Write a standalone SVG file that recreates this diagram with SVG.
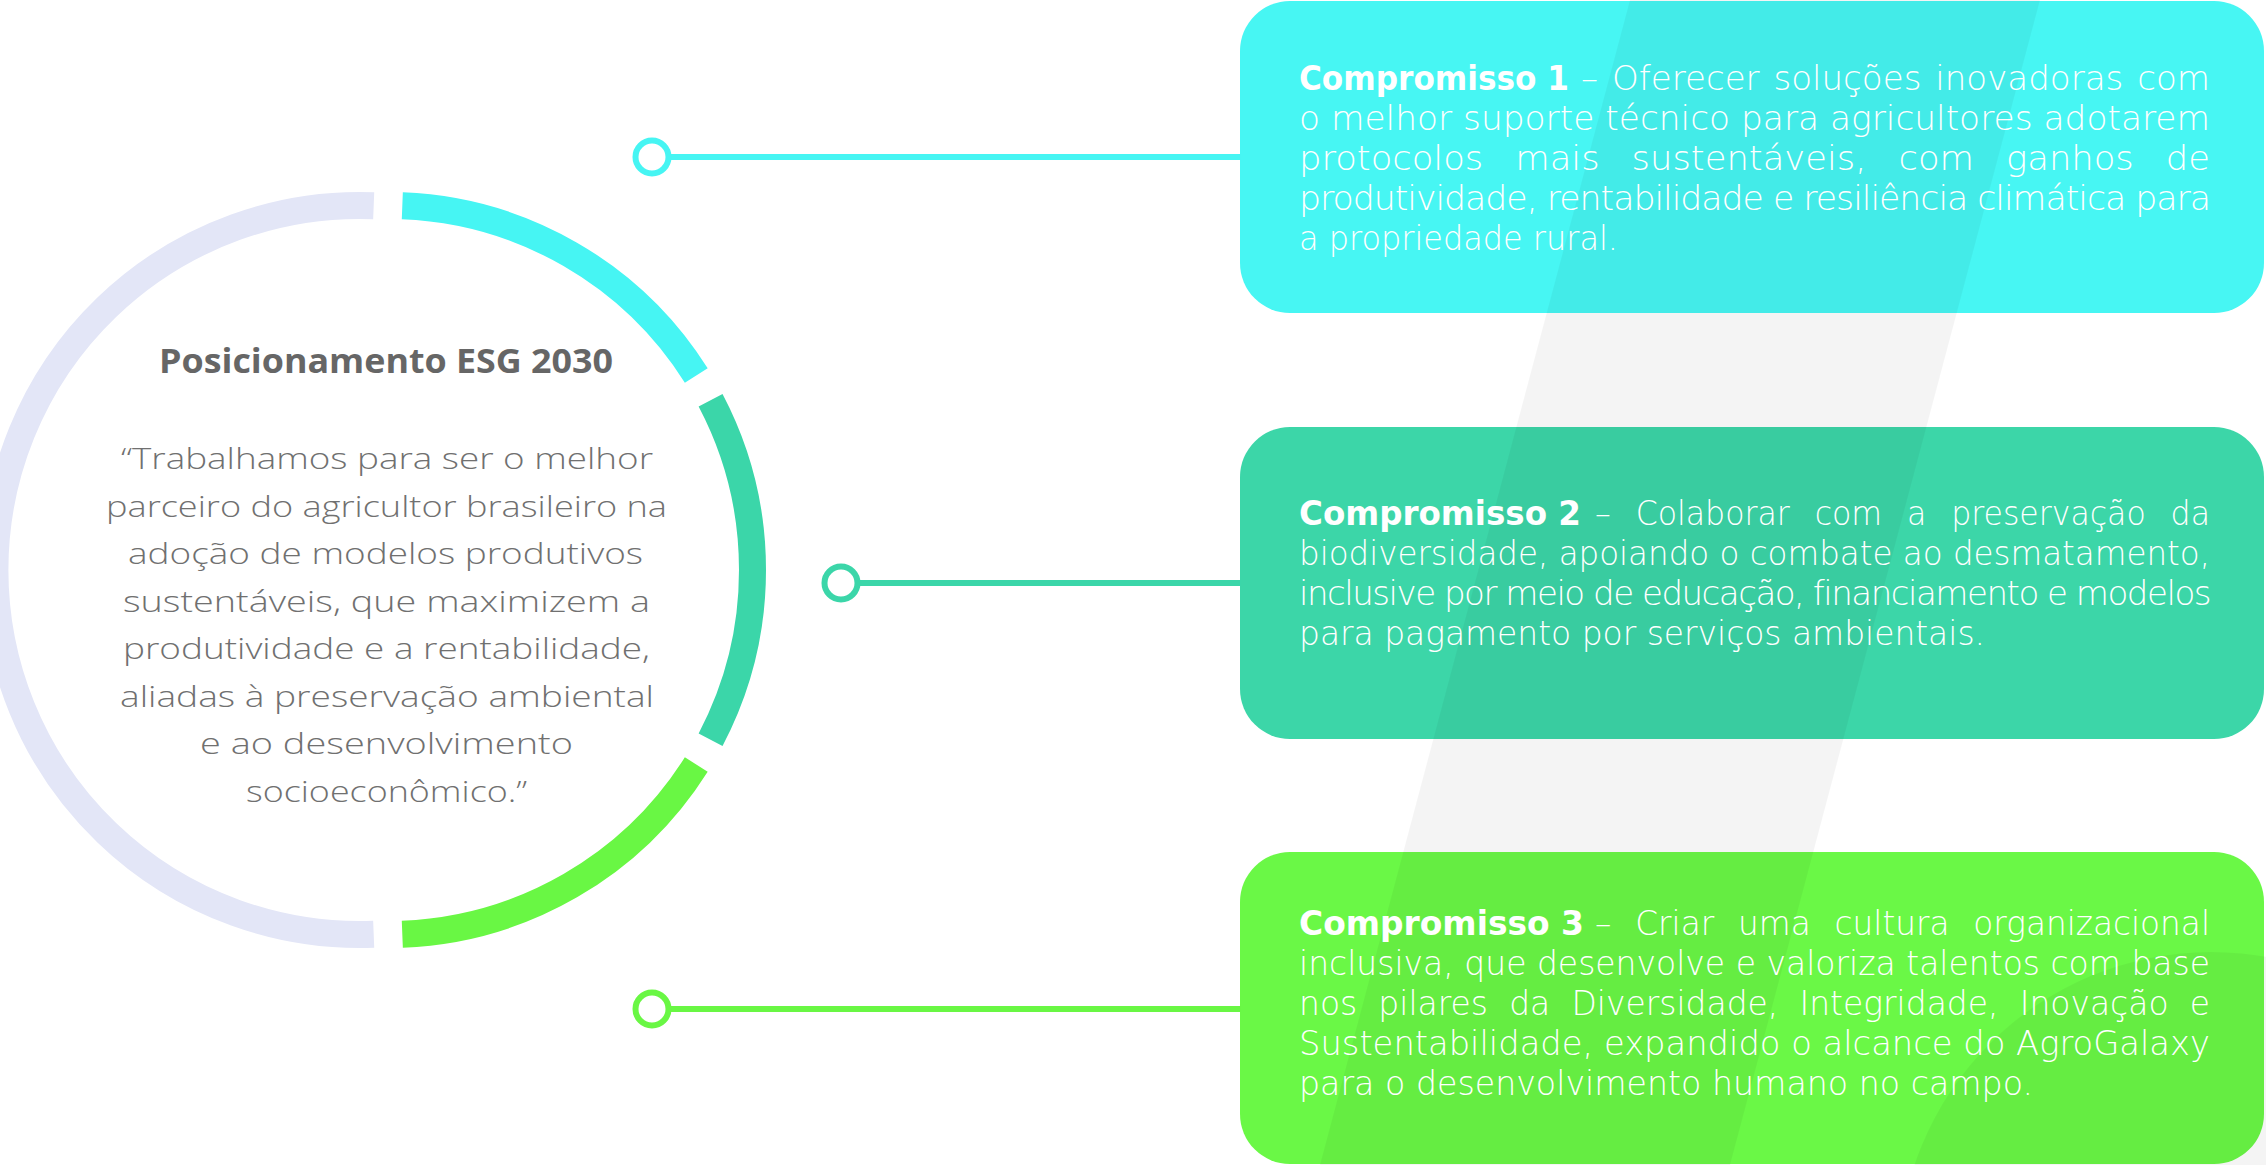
<svg xmlns="http://www.w3.org/2000/svg" width="2266" height="1165" viewBox="0 0 2266 1165">
  <style>
    .bt { font-family: "DejaVu Sans", "Liberation Sans", sans-serif; font-weight: 200; font-size: 34px; fill: #ffffff; }
    .bt .b { font-weight: 700; }
    .q { font-family: "Open Sans", "Liberation Sans", sans-serif; font-weight: 300; font-size: 30px; fill: #707070; }
    .ttl { font-family: "Open Sans", "Liberation Sans", sans-serif; font-weight: 700; font-size: 34px; fill: #666666; }
    .ring { fill: none; stroke-width: 27; }
    .dot { fill: #ffffff; stroke-width: 6; }
    .link { stroke-width: 6; }
    .deco { fill: #000000; fill-opacity: 0.045; }
  </style>
  <rect x="0" y="0" width="2266" height="1165" fill="#ffffff"/>

  <!-- boxes -->
  <g id="box-1-shape"><rect x="1240" y="1" width="1024" height="312" rx="50" ry="50" fill="#47F6F3"/></g>
  <g id="box-2-shape"><rect x="1240" y="427" width="1024" height="312" rx="50" ry="50" fill="#3CD6A8"/></g>
  <g id="box-3-shape"><rect x="1240" y="852" width="1024" height="312" rx="50" ry="50" fill="#6AF846"/></g>

  <!-- background decoration -->
  <g id="decoration">
    <polygon class="deco" points="1630,0 2040,0 1730,1165 1320,1165"/>
    <circle class="deco" cx="2211" cy="1265" r="313"/>
  </g>

  <!-- central circle node -->
  <g id="node-center">
    <path class="ring" stroke="#E3E6F7" d="M 373.69 934.22 A 364.5 364.5 0 1 1 373.69 205.78"/>
    <path class="ring" stroke="#46F5F3" d="M 402.31 205.78 A 364.5 364.5 0 0 1 696.27 375.50"/>
    <path class="ring" stroke="#3BD6A9" d="M 710.58 400.29 A 364.5 364.5 0 0 1 710.58 739.71"/>
    <path class="ring" stroke="#69F744" d="M 696.27 764.50 A 364.5 364.5 0 0 1 402.31 934.22"/>
    <text class="ttl" x="159" y="373" textLength="454" lengthAdjust="spacingAndGlyphs">Posicionamento ESG 2030</text>
    <text class="q" x="121" y="469" textLength="532" lengthAdjust="spacingAndGlyphs">“Trabalhamos para ser o melhor</text>
    <text class="q" x="106" y="516.5" textLength="561" lengthAdjust="spacingAndGlyphs">parceiro do agricultor brasileiro na</text>
    <text class="q" x="128" y="564" textLength="515" lengthAdjust="spacingAndGlyphs">adoção de modelos produtivos</text>
    <text class="q" x="123" y="611.5" textLength="527" lengthAdjust="spacingAndGlyphs">sustentáveis, que maximizem a</text>
    <text class="q" x="123" y="659" textLength="527" lengthAdjust="spacingAndGlyphs">produtividade e a rentabilidade,</text>
    <text class="q" x="120" y="706.5" textLength="534" lengthAdjust="spacingAndGlyphs">aliadas à preservação ambiental</text>
    <text class="q" x="200" y="754" textLength="373" lengthAdjust="spacingAndGlyphs">e ao desenvolvimento</text>
    <text class="q" x="246" y="801.5" textLength="281" lengthAdjust="spacingAndGlyphs">socioeconômico.”</text>
  </g>

  <!-- connectors -->
  <g id="connectors">
    <line class="link" x1="669" y1="157" x2="1241" y2="157" stroke="#46F5F3"/>
    <circle class="dot" cx="652" cy="157" r="16.5" stroke="#46F5F3"/>
    <line class="link" x1="858" y1="583" x2="1241" y2="583" stroke="#3BD6A9"/>
    <circle class="dot" cx="841" cy="583" r="16.5" stroke="#3BD6A9"/>
    <line class="link" x1="669" y1="1009" x2="1241" y2="1009" stroke="#69F744"/>
    <circle class="dot" cx="652" cy="1009" r="16.5" stroke="#69F744"/>
  </g>

  <!-- box texts -->
  <g id="node-compromisso-1" class="bt">
    <text class="b" x="1299" y="90" textLength="270" lengthAdjust="spacingAndGlyphs">Compromisso 1</text>
    <text x="1581" y="90" textLength="629" lengthAdjust="spacingAndGlyphs" word-spacing="3">– Oferecer soluções inovadoras com</text>
    <text x="1299" y="130" textLength="911" lengthAdjust="spacingAndGlyphs">o melhor suporte técnico para agricultores adotarem</text>
    <text x="1299" y="170" textLength="911" lengthAdjust="spacingAndGlyphs" word-spacing="20">protocolos mais sustentáveis, com ganhos de</text>
    <text x="1299" y="210" textLength="911" lengthAdjust="spacingAndGlyphs" letter-spacing="-1">produtividade, rentabilidade e resiliência climática para</text>
    <text x="1299" y="250" textLength="319" lengthAdjust="spacingAndGlyphs">a propriedade rural.</text>
  </g>
  <g id="node-compromisso-2" class="bt">
    <text class="b" x="1299" y="525" textLength="282" lengthAdjust="spacingAndGlyphs">Compromisso 2</text>
    <text x="1595" y="525" textLength="615" lengthAdjust="spacingAndGlyphs" word-spacing="16">– Colaborar com a preservação da</text>
    <text x="1299" y="565" textLength="911" lengthAdjust="spacingAndGlyphs">biodiversidade, apoiando o combate ao desmatamento,</text>
    <text x="1299" y="605" textLength="911" lengthAdjust="spacingAndGlyphs" letter-spacing="-1.5">inclusive por meio de educação, financiamento e modelos</text>
    <text x="1299" y="645" textLength="686" lengthAdjust="spacingAndGlyphs">para pagamento por serviços ambientais.</text>
  </g>
  <g id="node-compromisso-3" class="bt">
    <text class="b" x="1299" y="935" textLength="285" lengthAdjust="spacingAndGlyphs">Compromisso 3</text>
    <text x="1595" y="935" textLength="615" lengthAdjust="spacingAndGlyphs" word-spacing="14">– Criar uma cultura organizacional</text>
    <text x="1299" y="975" textLength="911" lengthAdjust="spacingAndGlyphs">inclusiva, que desenvolve e valoriza talentos com base</text>
    <text x="1299" y="1015" textLength="911" lengthAdjust="spacingAndGlyphs" word-spacing="11">nos pilares da Diversidade, Integridade, Inovação e</text>
    <text x="1299" y="1055" textLength="911" lengthAdjust="spacingAndGlyphs">Sustentabilidade, expandido o alcance do AgroGalaxy</text>
    <text x="1299" y="1095" textLength="734" lengthAdjust="spacingAndGlyphs">para o desenvolvimento humano no campo.</text>
  </g>
</svg>
